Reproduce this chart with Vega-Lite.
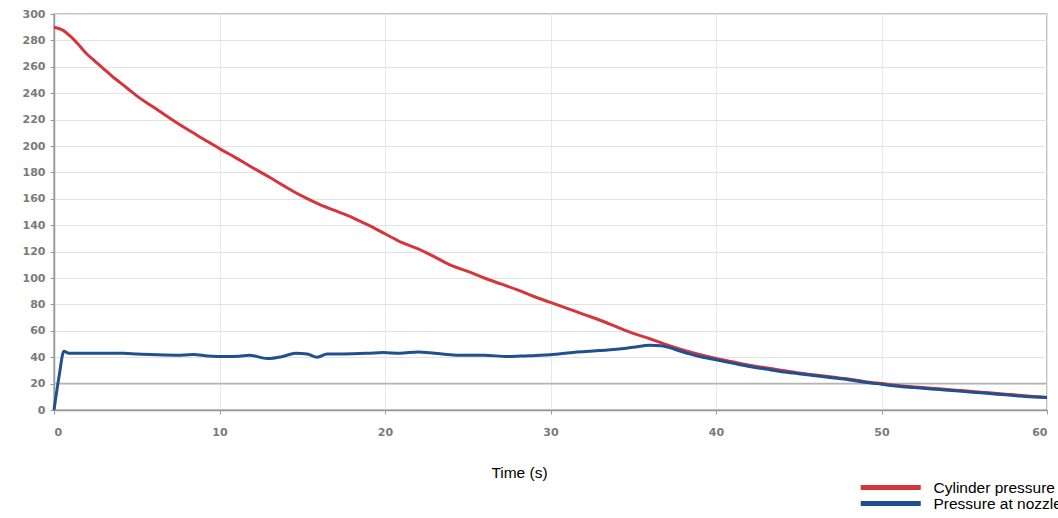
{
  "$schema": "https://vega.github.io/schema/vega-lite/v6.json",
  "width": 993,
  "height": 396,
  "autosize": "none",
  "padding": {"left": 54, "top": 14, "right": 11, "bottom": 108},
  "background": "white",
  "config": {
    "view": {"stroke": "#b0b0b0", "strokeWidth": 1.5},
    "axis": {
      "labelFont": "DejaVu Sans",
      "labelFontSize": 11,
      "labelFontWeight": "bold",
      "labelColor": "#7a7a7a",
      "labelOverlap": false,
      "labelBound": false,
      "domainColor": "#9a9a9a",
      "domainWidth": 1.5,
      "tickColor": "#9a9a9a",
      "tickSize": 4,
      "gridColor": "#e2e2e2",
      "gridWidth": 1
    }
  },
  "datasets": {
    "ref": [{"y": 20}],
    "series": [
      {"t": 0, "p": 290, "s": "Cylinder pressure"},
      {"t": 0.5, "p": 288, "s": "Cylinder pressure"},
      {"t": 1, "p": 283, "s": "Cylinder pressure"},
      {"t": 1.5, "p": 276.5, "s": "Cylinder pressure"},
      {"t": 2, "p": 269.5, "s": "Cylinder pressure"},
      {"t": 2.5, "p": 264, "s": "Cylinder pressure"},
      {"t": 3, "p": 258.5, "s": "Cylinder pressure"},
      {"t": 3.5, "p": 253, "s": "Cylinder pressure"},
      {"t": 4, "p": 248, "s": "Cylinder pressure"},
      {"t": 4.5, "p": 243, "s": "Cylinder pressure"},
      {"t": 5, "p": 238, "s": "Cylinder pressure"},
      {"t": 6, "p": 229.5, "s": "Cylinder pressure"},
      {"t": 7, "p": 221, "s": "Cylinder pressure"},
      {"t": 8, "p": 213, "s": "Cylinder pressure"},
      {"t": 9, "p": 205.5, "s": "Cylinder pressure"},
      {"t": 10, "p": 198, "s": "Cylinder pressure"},
      {"t": 11, "p": 191, "s": "Cylinder pressure"},
      {"t": 12, "p": 183.5, "s": "Cylinder pressure"},
      {"t": 13, "p": 176.5, "s": "Cylinder pressure"},
      {"t": 14, "p": 169, "s": "Cylinder pressure"},
      {"t": 15, "p": 162, "s": "Cylinder pressure"},
      {"t": 16, "p": 156, "s": "Cylinder pressure"},
      {"t": 17, "p": 151, "s": "Cylinder pressure"},
      {"t": 18, "p": 146, "s": "Cylinder pressure"},
      {"t": 19, "p": 140, "s": "Cylinder pressure"},
      {"t": 20, "p": 133.5, "s": "Cylinder pressure"},
      {"t": 21, "p": 127, "s": "Cylinder pressure"},
      {"t": 22, "p": 122, "s": "Cylinder pressure"},
      {"t": 23, "p": 116, "s": "Cylinder pressure"},
      {"t": 24, "p": 109.5, "s": "Cylinder pressure"},
      {"t": 25, "p": 105, "s": "Cylinder pressure"},
      {"t": 26, "p": 100, "s": "Cylinder pressure"},
      {"t": 27, "p": 95.5, "s": "Cylinder pressure"},
      {"t": 28, "p": 91, "s": "Cylinder pressure"},
      {"t": 29, "p": 86, "s": "Cylinder pressure"},
      {"t": 30, "p": 81.5, "s": "Cylinder pressure"},
      {"t": 31, "p": 77, "s": "Cylinder pressure"},
      {"t": 32, "p": 72.5, "s": "Cylinder pressure"},
      {"t": 33, "p": 68, "s": "Cylinder pressure"},
      {"t": 34, "p": 63, "s": "Cylinder pressure"},
      {"t": 35, "p": 58, "s": "Cylinder pressure"},
      {"t": 36, "p": 54, "s": "Cylinder pressure"},
      {"t": 37, "p": 49.5, "s": "Cylinder pressure"},
      {"t": 38, "p": 45.5, "s": "Cylinder pressure"},
      {"t": 39, "p": 42, "s": "Cylinder pressure"},
      {"t": 40, "p": 39, "s": "Cylinder pressure"},
      {"t": 41, "p": 36.5, "s": "Cylinder pressure"},
      {"t": 42, "p": 34, "s": "Cylinder pressure"},
      {"t": 43, "p": 32, "s": "Cylinder pressure"},
      {"t": 44, "p": 30, "s": "Cylinder pressure"},
      {"t": 45, "p": 28, "s": "Cylinder pressure"},
      {"t": 46, "p": 26.5, "s": "Cylinder pressure"},
      {"t": 47, "p": 25, "s": "Cylinder pressure"},
      {"t": 48, "p": 23.5, "s": "Cylinder pressure"},
      {"t": 49, "p": 21.5, "s": "Cylinder pressure"},
      {"t": 50, "p": 20, "s": "Cylinder pressure"},
      {"t": 51, "p": 18.5, "s": "Cylinder pressure"},
      {"t": 52, "p": 17.5, "s": "Cylinder pressure"},
      {"t": 53, "p": 16.5, "s": "Cylinder pressure"},
      {"t": 54, "p": 15.5, "s": "Cylinder pressure"},
      {"t": 55, "p": 14.5, "s": "Cylinder pressure"},
      {"t": 56, "p": 13.5, "s": "Cylinder pressure"},
      {"t": 57, "p": 12.5, "s": "Cylinder pressure"},
      {"t": 58, "p": 11.5, "s": "Cylinder pressure"},
      {"t": 59, "p": 10.5, "s": "Cylinder pressure"},
      {"t": 60, "p": 9.5, "s": "Cylinder pressure"},
      {"t": 0, "p": 0, "s": "Pressure at nozzle"},
      {"t": 0.3, "p": 25, "s": "Pressure at nozzle"},
      {"t": 0.6, "p": 44.5, "s": "Pressure at nozzle"},
      {"t": 0.9, "p": 43, "s": "Pressure at nozzle"},
      {"t": 2, "p": 43, "s": "Pressure at nozzle"},
      {"t": 4.2, "p": 43, "s": "Pressure at nozzle"},
      {"t": 5, "p": 42.5, "s": "Pressure at nozzle"},
      {"t": 5.8, "p": 42, "s": "Pressure at nozzle"},
      {"t": 7.4, "p": 41.5, "s": "Pressure at nozzle"},
      {"t": 8.4, "p": 42, "s": "Pressure at nozzle"},
      {"t": 9.3, "p": 41, "s": "Pressure at nozzle"},
      {"t": 10.4, "p": 40.5, "s": "Pressure at nozzle"},
      {"t": 11.2, "p": 40.8, "s": "Pressure at nozzle"},
      {"t": 11.8, "p": 41.5, "s": "Pressure at nozzle"},
      {"t": 12.9, "p": 39, "s": "Pressure at nozzle"},
      {"t": 13.8, "p": 40.5, "s": "Pressure at nozzle"},
      {"t": 14.6, "p": 43, "s": "Pressure at nozzle"},
      {"t": 15.3, "p": 42.5, "s": "Pressure at nozzle"},
      {"t": 15.9, "p": 40, "s": "Pressure at nozzle"},
      {"t": 16.5, "p": 42.5, "s": "Pressure at nozzle"},
      {"t": 17.5, "p": 42.5, "s": "Pressure at nozzle"},
      {"t": 19, "p": 43, "s": "Pressure at nozzle"},
      {"t": 19.9, "p": 43.5, "s": "Pressure at nozzle"},
      {"t": 20.9, "p": 43, "s": "Pressure at nozzle"},
      {"t": 22, "p": 44, "s": "Pressure at nozzle"},
      {"t": 23, "p": 43, "s": "Pressure at nozzle"},
      {"t": 24.3, "p": 41.5, "s": "Pressure at nozzle"},
      {"t": 26, "p": 41.5, "s": "Pressure at nozzle"},
      {"t": 27.4, "p": 40.5, "s": "Pressure at nozzle"},
      {"t": 28.5, "p": 41, "s": "Pressure at nozzle"},
      {"t": 29.4, "p": 41.5, "s": "Pressure at nozzle"},
      {"t": 30.5, "p": 42.5, "s": "Pressure at nozzle"},
      {"t": 31.6, "p": 44, "s": "Pressure at nozzle"},
      {"t": 33, "p": 45, "s": "Pressure at nozzle"},
      {"t": 34, "p": 46, "s": "Pressure at nozzle"},
      {"t": 35, "p": 47.5, "s": "Pressure at nozzle"},
      {"t": 36, "p": 49, "s": "Pressure at nozzle"},
      {"t": 36.7, "p": 48.75, "s": "Pressure at nozzle"},
      {"t": 37.5, "p": 46, "s": "Pressure at nozzle"},
      {"t": 38.4, "p": 42.5, "s": "Pressure at nozzle"},
      {"t": 39, "p": 40.5, "s": "Pressure at nozzle"},
      {"t": 40, "p": 38, "s": "Pressure at nozzle"},
      {"t": 41, "p": 35.5, "s": "Pressure at nozzle"},
      {"t": 42, "p": 33, "s": "Pressure at nozzle"},
      {"t": 43, "p": 31, "s": "Pressure at nozzle"},
      {"t": 44, "p": 29, "s": "Pressure at nozzle"},
      {"t": 45, "p": 27.5, "s": "Pressure at nozzle"},
      {"t": 46, "p": 26, "s": "Pressure at nozzle"},
      {"t": 47, "p": 24.5, "s": "Pressure at nozzle"},
      {"t": 48, "p": 23, "s": "Pressure at nozzle"},
      {"t": 49, "p": 21, "s": "Pressure at nozzle"},
      {"t": 50, "p": 19.5, "s": "Pressure at nozzle"},
      {"t": 51, "p": 18, "s": "Pressure at nozzle"},
      {"t": 52, "p": 17, "s": "Pressure at nozzle"},
      {"t": 53, "p": 16, "s": "Pressure at nozzle"},
      {"t": 54, "p": 15, "s": "Pressure at nozzle"},
      {"t": 55, "p": 14, "s": "Pressure at nozzle"},
      {"t": 56, "p": 13, "s": "Pressure at nozzle"},
      {"t": 57, "p": 12, "s": "Pressure at nozzle"},
      {"t": 58, "p": 11, "s": "Pressure at nozzle"},
      {"t": 59, "p": 10, "s": "Pressure at nozzle"},
      {"t": 60, "p": 9.5, "s": "Pressure at nozzle"}
    ]
  },
  "layer": [
    {
      "data": {"name": "ref"},
      "mark": {"type": "rule", "color": "#b4b4b4", "strokeWidth": 1.5},
      "encoding": {
        "y": {
          "field": "y",
          "type": "quantitative",
          "scale": {"domain": [0, 300], "nice": false},
          "axis": {
            "values": [0, 20, 40, 60, 80, 100, 120, 140, 160, 180, 200, 220, 240, 260, 280, 300],
            "labelPadding": 5,
            "title": null
          }
        }
      }
    },
    {
      "data": {"name": "series"},
      "mark": {"type": "line", "strokeWidth": 3, "interpolate": "monotone"},
      "encoding": {
        "x": {
          "field": "t",
          "type": "quantitative",
          "scale": {"domain": [0, 60], "nice": false},
          "axis": {
            "values": [0, 10, 20, 30, 40, 50, 60],
            "labelPadding": 12,
            "title": "Time (s)",
            "titleFont": "Liberation Sans",
            "titleFontSize": 15.5,
            "titleFontWeight": "normal",
            "titleColor": "#000",
            "titleX": 465,
            "titleY": 62,
            "titleBaseline": "middle",
            "gridColor": "#e8e8e8"
          }
        },
        "y": {
          "field": "p",
          "type": "quantitative",
          "scale": {"domain": [0, 300], "nice": false},
          "axis": {
            "values": [0, 20, 40, 60, 80, 100, 120, 140, 160, 180, 200, 220, 240, 260, 280, 300],
            "labelPadding": 5,
            "title": null
          }
        },
        "color": {
          "field": "s",
          "type": "nominal",
          "scale": {
            "domain": ["Cylinder pressure", "Pressure at nozzle"],
            "range": ["#d4363c", "#22508f"]
          },
          "legend": {
            "title": null,
            "orient": "none",
            "legendX": 799,
            "legendY": 466,
            "symbolType": "M0,0H12",
            "symbolSize": 100,
            "symbolStrokeWidth": 5,
            "labelFont": "Liberation Sans",
            "labelFontSize": 15.5,
            "labelColor": "#000",
            "labelOffset": 65,
            "rowPadding": 0,
            "clipHeight": 15,
            "labelLimit": 0
          }
        }
      }
    }
  ]
}
